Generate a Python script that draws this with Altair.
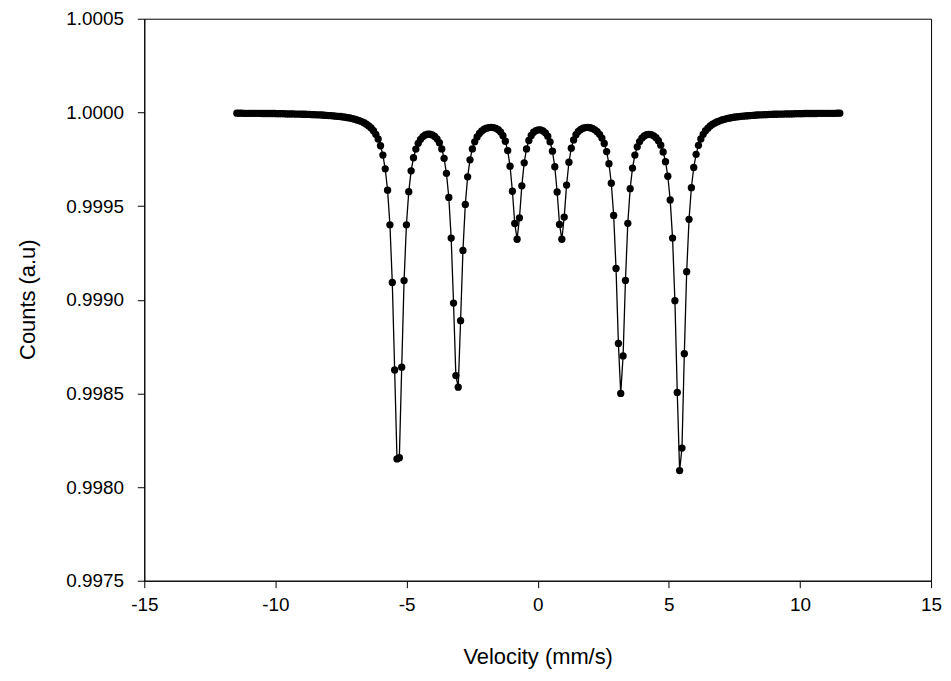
import altair as alt
import pandas as pd

velocity = [
    -11.470, -11.380, -11.290, -11.201, -11.111, -11.021, -10.931, -10.841, -10.752, -10.662,
    -10.572, -10.482, -10.392, -10.303, -10.213, -10.123, -10.033, -9.943, -9.854, -9.764,
    -9.674, -9.584, -9.494, -9.405, -9.315, -9.225, -9.135, -9.045, -8.956, -8.866,
    -8.776, -8.686, -8.596, -8.507, -8.417, -8.327, -8.237, -8.147, -8.058, -7.968,
    -7.878, -7.788, -7.698, -7.609, -7.519, -7.429, -7.339, -7.249, -7.160, -7.070,
    -6.980, -6.890, -6.800, -6.711, -6.621, -6.531, -6.441, -6.351, -6.262, -6.172,
    -6.082, -5.992, -5.902, -5.813, -5.723, -5.633, -5.543, -5.453, -5.364, -5.274,
    -5.184, -5.094, -5.004, -4.915, -4.825, -4.735, -4.645, -4.555, -4.466, -4.376,
    -4.286, -4.196, -4.106, -4.017, -3.927, -3.837, -3.747, -3.657, -3.568, -3.478,
    -3.388, -3.298, -3.208, -3.119, -3.029, -2.939, -2.849, -2.759, -2.670, -2.580,
    -2.490, -2.400, -2.310, -2.221, -2.131, -2.041, -1.951, -1.861, -1.772, -1.682,
    -1.592, -1.502, -1.412, -1.323, -1.233, -1.143, -1.053, -0.963, -0.874, -0.784,
    -0.694, -0.604, -0.514, -0.425, -0.335, -0.245, -0.155, -0.065, 0.024, 0.114,
    0.204, 0.294, 0.384, 0.473, 0.563, 0.653, 0.743, 0.833, 0.922, 1.012,
    1.102, 1.192, 1.282, 1.371, 1.461, 1.551, 1.641, 1.731, 1.820, 1.910,
    2.000, 2.090, 2.180, 2.269, 2.359, 2.449, 2.539, 2.629, 2.718, 2.808,
    2.898, 2.988, 3.078, 3.167, 3.257, 3.347, 3.437, 3.527, 3.616, 3.706,
    3.796, 3.886, 3.976, 4.065, 4.155, 4.245, 4.335, 4.425, 4.514, 4.604,
    4.694, 4.784, 4.874, 4.963, 5.053, 5.143, 5.233, 5.323, 5.412, 5.502,
    5.592, 5.682, 5.772, 5.861, 5.951, 6.041, 6.131, 6.221, 6.310, 6.400,
    6.490, 6.580, 6.670, 6.759, 6.849, 6.939, 7.029, 7.119, 7.208, 7.298,
    7.388, 7.478, 7.568, 7.657, 7.747, 7.837, 7.927, 8.017, 8.106, 8.196,
    8.286, 8.376, 8.466, 8.555, 8.645, 8.735, 8.825, 8.915, 9.004, 9.094,
    9.184, 9.274, 9.364, 9.453, 9.543, 9.633, 9.723, 9.813, 9.902, 9.992,
    10.082, 10.172, 10.262, 10.351, 10.441, 10.531, 10.621, 10.711, 10.800, 10.890,
    10.980, 11.070, 11.160, 11.250, 11.339, 11.429, 11.519,
]

counts = [
    0.999996, 0.999996, 0.999996, 0.999995, 0.999995, 0.999995, 0.999995, 0.999995, 0.999995, 0.999995,
    0.999995, 0.999994, 0.999994, 0.999994, 0.999994, 0.999994, 0.999994, 0.999993, 0.999993, 0.999993,
    0.999993, 0.999992, 0.999992, 0.999992, 0.999992, 0.999991, 0.999991, 0.999991, 0.999990, 0.999990,
    0.999989, 0.999989, 0.999988, 0.999988, 0.999987, 0.999987, 0.999986, 0.999985, 0.999984, 0.999983,
    0.999983, 0.999981, 0.999980, 0.999979, 0.999978, 0.999976, 0.999974, 0.999972, 0.999970, 0.999967,
    0.999964, 0.999960, 0.999956, 0.999951, 0.999945, 0.999937, 0.999928, 0.999917, 0.999902, 0.999883,
    0.999858, 0.999822, 0.999772, 0.999699, 0.999585, 0.999400, 0.999092, 0.998625, 0.998150, 0.998157,
    0.998640, 0.999102, 0.999400, 0.999577, 0.999688, 0.999758, 0.999804, 0.999835, 0.999856, 0.999871,
    0.999880, 0.999884, 0.999884, 0.999880, 0.999872, 0.999859, 0.999838, 0.999805, 0.999755, 0.999675,
    0.999546, 0.999329, 0.998982, 0.998595, 0.998533, 0.998888, 0.999263, 0.999509, 0.999656, 0.999747,
    0.999805, 0.999843, 0.999869, 0.999888, 0.999901, 0.999910, 0.999916, 0.999919, 0.999920, 0.999919,
    0.999915, 0.999908, 0.999895, 0.999876, 0.999846, 0.999796, 0.999713, 0.999579, 0.999407, 0.999323,
    0.999437, 0.999608, 0.999731, 0.999805, 0.999850, 0.999877, 0.999894, 0.999903, 0.999907, 0.999907,
    0.999901, 0.999891, 0.999873, 0.999843, 0.999793, 0.999710, 0.999575, 0.999402, 0.999323, 0.999441,
    0.999612, 0.999734, 0.999809, 0.999853, 0.999881, 0.999898, 0.999909, 0.999916, 0.999919, 0.999920,
    0.999918, 0.999914, 0.999907, 0.999897, 0.999883, 0.999863, 0.999834, 0.999791, 0.999726, 0.999622,
    0.999450, 0.999167, 0.998767, 0.998500, 0.998700, 0.999103, 0.999408, 0.999593, 0.999703, 0.999772,
    0.999816, 0.999844, 0.999863, 0.999874, 0.999881, 0.999883, 0.999881, 0.999875, 0.999865, 0.999849,
    0.999825, 0.999789, 0.999737, 0.999659, 0.999533, 0.999329, 0.998995, 0.998505, 0.998088, 0.998208,
    0.998712, 0.999150, 0.999429, 0.999598, 0.999706, 0.999776, 0.999824, 0.999858, 0.999883, 0.999902,
    0.999916, 0.999928, 0.999937, 0.999944, 0.999950, 0.999955, 0.999960, 0.999963, 0.999967, 0.999969,
    0.999972, 0.999974, 0.999976, 0.999977, 0.999979, 0.999980, 0.999981, 0.999982, 0.999983, 0.999984,
    0.999985, 0.999986, 0.999987, 0.999987, 0.999988, 0.999988, 0.999989, 0.999989, 0.999990, 0.999990,
    0.999991, 0.999991, 0.999991, 0.999992, 0.999992, 0.999992, 0.999992, 0.999993, 0.999993, 0.999993,
    0.999993, 0.999994, 0.999994, 0.999994, 0.999994, 0.999994, 0.999994, 0.999995, 0.999995, 0.999995,
    0.999995, 0.999995, 0.999995, 0.999995, 0.999995, 0.999996, 0.999996,
]

x_ticks = [-15, -10, -5, 0, 5, 10, 15]
y_ticks = [0.9975, 0.9980, 0.9985, 0.9990, 0.9995, 1.0000, 1.0005]

df = pd.DataFrame({"velocity": velocity, "counts": counts})

FONT = "Liberation Sans"

base = alt.Chart(df).encode(
    x=alt.X(
        "velocity:Q",
        scale=alt.Scale(domain=[-15, 15], nice=False, zero=False),
        axis=alt.Axis(
            values=x_ticks,
            labelExpr="'' + datum.value",
            title="Velocity (mm/s)",
            labelPadding=8,
            titleX=395.5,
            titleY=76,
            titleBaseline="middle",
            titleAlign="center",
        ),
    ),
    y=alt.Y(
        "counts:Q",
        scale=alt.Scale(domain=[0.9975, 1.0005], nice=False, zero=False),
        axis=alt.Axis(
            values=y_ticks,
            format=".4f",
            title="Counts (a.u)",
            labelPadding=14,
            titleX=-117,
            titleY=282,
            titleAngle=270,
            titleBaseline="middle",
            titleAlign="center",
        ),
    ),
)

line = base.mark_line(color="black", strokeWidth=1.3)
points = base.mark_circle(color="black", size=54, opacity=1)

chart = (
    (line + points)
    .properties(
        width=791,
        height=565,
        autosize=alt.AutoSizeParams(type="none"),
        padding={"left": 137, "top": 9, "right": 12, "bottom": 95},
        background="white",
    )
    .configure_view(stroke="black", strokeWidth=1)
    .configure_axis(
        grid=False,
        domainColor="black",
        domainWidth=1,
        tickColor="black",
        tickWidth=1,
        tickSize=7,
        labelFont=FONT,
        labelFontSize=19,
        labelColor="black",
        labelFlush=False,
        labelOverlap=False,
        titleFont=FONT,
        titleFontSize=22,
        titleFontWeight="normal",
        titleColor="black",
    )
)

chart.save("out.html", embed_options={"renderer": "svg", "actions": False})
